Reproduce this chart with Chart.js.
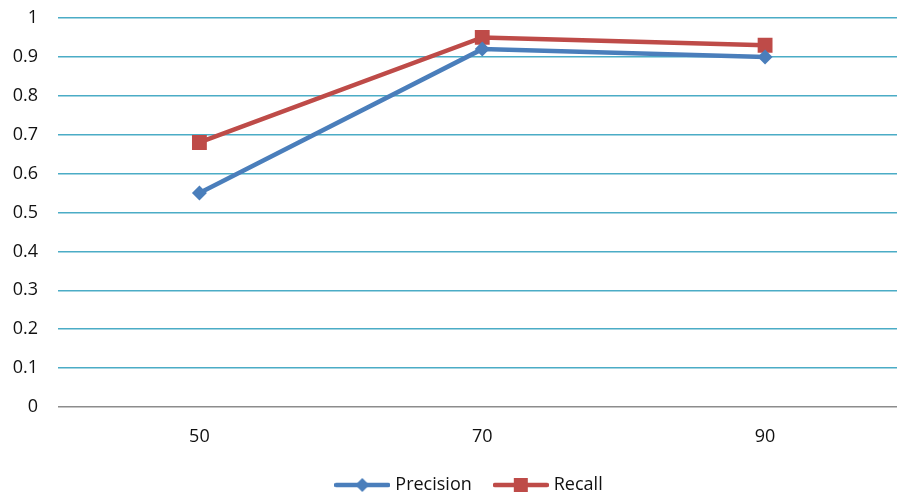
<!DOCTYPE html>
<html><head><meta charset="utf-8">
<script src="https://cdn.jsdelivr.net/npm/chart.js@4/dist/chart.umd.min.js"></script>
<style>
html,body{margin:0;padding:0;background:#fff;overflow:hidden;}
#wrap{width:917px;height:494px;position:relative;}
</style></head><body>
<div id="wrap"><canvas id="c" width="917" height="494"></canvas></div>
<script>
const categories = ['50', '70', '90'];
const precision = [0.55, 0.92, 0.90];
const recall = [0.68, 0.95, 0.93];
const yTicks = [0, 0.1, 0.2, 0.3, 0.4, 0.5, 0.6, 0.7, 0.8, 0.9, 1];

const BLUE = '#4A7EBB', RED = '#BE4B48', GRID = '#4BACC6';

function legendImg(color, shape) {
  const c = document.createElement('canvas');
  c.width = 56; c.height = 16;
  const g = c.getContext('2d');
  g.strokeStyle = color; g.lineWidth = 4.5; g.lineCap = 'round';
  g.beginPath(); g.moveTo(2, 8); g.lineTo(54, 8); g.stroke();
  g.fillStyle = color;
  if (shape === 'diamond') {
    g.beginPath(); g.moveTo(28, 1); g.lineTo(35, 8); g.lineTo(28, 15); g.lineTo(21, 8); g.closePath(); g.fill();
  } else {
    g.fillRect(21, 1, 14, 14);
  }
  return c;
}

const shiftLegend = {
  id: 'shiftLegend',
  afterLayout(chart) {
    if (chart.legend) {
      chart.legend.left += 12; chart.legend.right += 12;
      chart.legend.top -= 5; chart.legend.bottom -= 5;
    }
  }
};

new Chart(document.getElementById('c'), {
  type: 'line',
  data: {
    labels: categories,
    datasets: [
      { label: 'Precision', data: precision, borderColor: BLUE, backgroundColor: BLUE,
        borderWidth: 4.5, pointStyle: 'rectRot', pointRadius: 7.5, pointHoverRadius: 7.5,
        pointBorderWidth: 0, tension: 0 },
      { label: 'Recall', data: recall, borderColor: RED, backgroundColor: RED,
        borderWidth: 4.5, pointStyle: 'rect', pointRadius: 10.5, pointHoverRadius: 10.5,
        pointBorderWidth: 0, tension: 0 }
    ]
  },
  plugins: [shiftLegend],
  options: {
    responsive: false,
    animation: false,
    devicePixelRatio: 1,
    layout: { padding: { top: 18, right: 0, left: 0, bottom: -15 } },
    plugins: {
      tooltip: { enabled: false },
      legend: {
        position: 'bottom',
        labels: {
          usePointStyle: true,
          pointStyleWidth: 48,
          boxHeight: 16,
          padding: 25,
          color: '#111',
          font: { family: 'Open Sans', size: 18 },
          generateLabels: (chart) => [
            { text: 'Precision', pointStyle: legendImg(BLUE, 'diamond'), fillStyle: BLUE, strokeStyle: BLUE, lineWidth: 0, datasetIndex: 0, fontColor: '#111' },
            { text: 'Recall', pointStyle: legendImg(RED, 'square'), fillStyle: RED, strokeStyle: RED, lineWidth: 0, datasetIndex: 1, fontColor: '#111' }
          ]
        }
      }
    },
    scales: {
      x: {
        offset: true,
        grid: { display: false, drawTicks: false },
        border: { display: false },
        ticks: { color: '#111', font: { family: 'Open Sans', size: 18 }, padding: 19 },
        afterFit: (s) => { s.height = 49; s.paddingLeft = 0; s.paddingRight = 0; }
      },
      y: {
        min: 0, max: 1,
        afterBuildTicks: (s) => { s.ticks = yTicks.map(v => ({ value: v })); },
        grid: {
          drawTicks: false,
          color: (ctx) => ctx.tick && ctx.tick.value === 0 ? '#8C8C8C' : GRID,
          lineWidth: 1.5
        },
        border: { display: false },
        ticks: { color: '#111', font: { family: 'Open Sans', size: 18 }, padding: 20,
          callback: (v) => String(Math.round(v * 10) / 10) },
        afterFit: (s) => { s.width = 58; s.paddingTop = 0; s.paddingBottom = 0; }
      }
    }
  }
});
</script>
</body></html>
